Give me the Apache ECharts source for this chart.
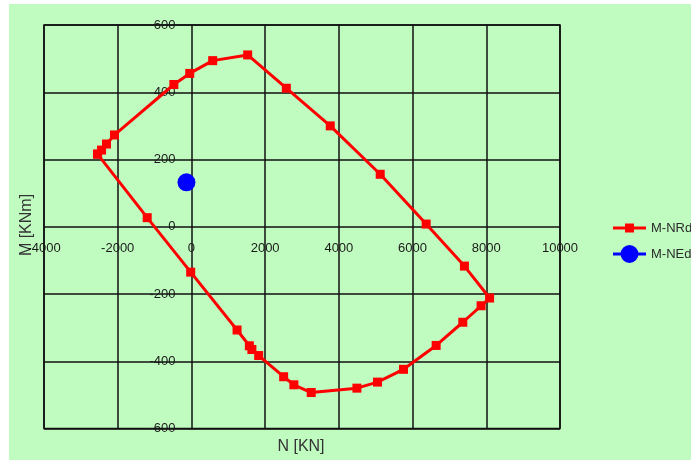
<!DOCTYPE html>
<html>
<head>
<meta charset="utf-8">
<script src="https://cdn.jsdelivr.net/npm/echarts@6/dist/echarts.min.js"></script>
<style>
html,body{margin:0;padding:0;background:#fff;}
#wrap{position:relative;width:691px;height:460px;overflow:hidden;}
#bg{position:absolute;left:9px;top:4px;width:682px;height:456px;background:#c0fcc0;}
#chart{position:absolute;left:0;top:0;width:691px;height:460px;}
</style>
</head>
<body>
<div id="wrap"><div id="bg"></div><div id="chart"></div></div>
<script>
// M-NRd interaction curve (N [KN], M [KNm])
const nrdN = [-2547, -2439, -2304, -2087, -477, -46, 577, 1526, 2575, 3767, 5122, 6369, 7407, 8090,
              7859, 7363, 6640, 5754, 5049, 4490, 3250, 2780, 2502, 1825, 1640, 1572, 1238, -20, -1200, -2547];
const nrdM = [216, 228, 246, 273, 423, 456, 494, 511, 412, 300, 156, 8, -117, -212,
              -235, -284, -353, -424, -462, -480, -493, -470, -446, -383, -365, -354, -307, -135, 27, 216];
// M-NEd design point
const nedN = [-135];
const nedM = [132];
const seriesNames = ['M-NRd', 'M-NEd'];
const xTitle = 'N [KN]';
const yTitle = 'M [KNm]';

const font = 'Liberation Sans, Arial, sans-serif';
const gridLeft = 44, gridTop = 25, gridW = 516, gridH = 403.5;
const xMin = -4000, xMax = 10000, yMin = -600, yMax = 600;
// shift axes so they cross at zero (same as onZero)
const yAxisOffset = -gridW * (0 - xMin) / (xMax - xMin);
const xAxisOffset = -gridH * (0 - yMin) / (yMax - yMin);

const chart = echarts.init(document.getElementById('chart'), null, {renderer: 'canvas'});
chart.setOption({
  backgroundColor: 'transparent',
  animation: false,
  grid: {left: gridLeft, top: gridTop, width: gridW, height: gridH, show: true, borderColor: '#111', borderWidth: 1.5, backgroundColor: 'transparent'},
  xAxis: {
    type: 'value', min: xMin, max: xMax, interval: 2000, position: 'bottom', offset: xAxisOffset,
    axisLine: {show: false, onZero: false},
    axisTick: {show: false},
    axisLabel: {margin: 15, color: '#1a1a1a', fontSize: 13, fontFamily: font, formatter: v => String(v)},
    splitLine: {show: true, lineStyle: {color: '#111', width: 1.5}}
  },
  yAxis: {
    type: 'value', min: yMin, max: yMax, interval: 200, position: 'left', offset: yAxisOffset,
    axisLine: {show: false, onZero: false},
    axisTick: {show: false},
    axisLabel: {margin: 16, color: '#1a1a1a', fontSize: 13, fontFamily: font, formatter: v => String(v)},
    splitLine: {show: true, lineStyle: {color: '#111', width: 1.5}}
  },
  legend: {
    orient: 'vertical', left: 608, top: 214, itemWidth: 33, itemHeight: 18, itemGap: 8,
    textStyle: {color: '#2a2a2a', fontSize: 13, fontFamily: font},
    data: [
      {name: seriesNames[0], icon: 'path://M0,7.5 L12,7.5 L12,10.5 L0,10.5 Z M21,7.5 L33,7.5 L33,10.5 L21,10.5 Z M12,4.5 L21,4.5 L21,13.5 L12,13.5 Z M0,0 L0,0.01 L0.01,0.01 Z M0,18 L0,17.99 L0.01,17.99 Z'},
      {name: seriesNames[1], icon: 'path://M0,7.5 L8,7.5 L8,10.5 L0,10.5 Z M25,7.5 L33,7.5 L33,10.5 L25,10.5 Z M7.5,9 A9,9 0 1,1 25.5,9 A9,9 0 1,1 7.5,9 Z'}
    ]
  },
  series: [
    {
      name: seriesNames[0], type: 'line', data: nrdN.map((n, i) => [n, nrdM[i]]),
      symbol: 'rect', symbolSize: 9, showAllSymbol: true,
      lineStyle: {color: '#ff0000', width: 3}, itemStyle: {color: '#ff0000'}, z: 3
    },
    {
      name: seriesNames[1], type: 'line', data: nedN.map((n, i) => [n, nedM[i]]),
      symbol: 'circle', symbolSize: 18,
      lineStyle: {color: '#0000ff', width: 3}, itemStyle: {color: '#0000ff'}, z: 4
    }
  ],
  graphic: [
    {type: 'text', x: 27, y: 225, rotation: Math.PI / 2, silent: true,
     style: {text: yTitle, font: '16px ' + font, fill: '#333', align: 'center', verticalAlign: 'middle'}},
    {type: 'text', x: 301, y: 447, silent: true,
     style: {text: xTitle, font: '16px ' + font, fill: '#333', align: 'center', verticalAlign: 'middle'}}
  ]
});
</script>
</body>
</html>
